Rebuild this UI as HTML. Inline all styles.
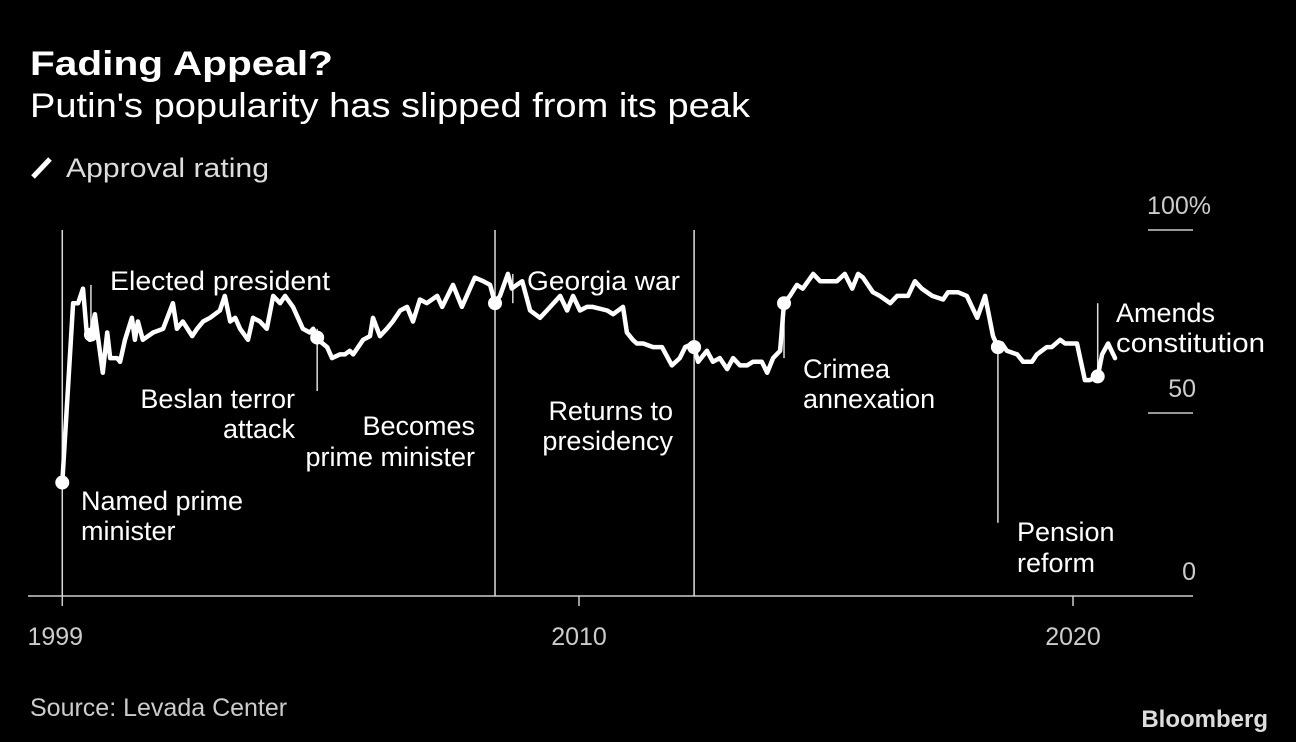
<!DOCTYPE html>
<html><head><meta charset="utf-8"><style>
html,body{margin:0;padding:0;background:#000;}
svg{display:block;}
text{font-family:"Liberation Sans",sans-serif;fill:#fff;}
</style></head><body>
<svg id="chart" width="1296" height="742" viewBox="0 0 1296 742">
<rect x="0" y="0" width="1296" height="742" fill="#000"/>
<text x="30" y="75" font-size="34" font-weight="bold" textLength="303" lengthAdjust="spacingAndGlyphs">Fading Appeal?</text>
<text x="30" y="117" font-size="34" textLength="720" lengthAdjust="spacingAndGlyphs">Putin's popularity has slipped from its peak</text>
<line x1="33" y1="177" x2="50" y2="159" stroke="#fff" stroke-width="5"/>
<text x="66" y="177" font-size="27" fill="#ddd" style="fill:#ddd" textLength="203" lengthAdjust="spacingAndGlyphs">Approval rating</text>
<g id="axes"></g>
<g id="events"></g>
<g id="series"></g>
<g id="labels">
<text x="110" y="290" font-size="27" textLength="220" lengthAdjust="spacingAndGlyphs">Elected president</text>
<text x="295" y="408" font-size="27" text-anchor="end">Beslan terror</text>
<text x="295" y="438" font-size="27" text-anchor="end">attack</text>
<text x="475" y="435" font-size="27" text-anchor="end">Becomes</text>
<text x="475" y="466" font-size="27" text-anchor="end">prime minister</text>
<text x="81" y="510" font-size="27">Named prime</text>
<text x="81" y="540" font-size="27">minister</text>
<text x="527" y="290" font-size="27" textLength="153" lengthAdjust="spacingAndGlyphs">Georgia war</text>
<text x="673" y="420" font-size="27" text-anchor="end">Returns to</text>
<text x="673" y="450" font-size="27" text-anchor="end">presidency</text>
<text x="803" y="378" font-size="27">Crimea</text>
<text x="803" y="408" font-size="27">annexation</text>
<text x="1017" y="541" font-size="27">Pension</text>
<text x="1017" y="572" font-size="27">reform</text>
<text x="1116" y="322" font-size="27">Amends</text>
<text x="1116" y="352" font-size="27" textLength="149" lengthAdjust="spacingAndGlyphs">constitution</text>
</g>
<text x="30" y="716" font-size="25" style="fill:#ccc">Source: Levada Center</text>
<text x="1268" y="727" font-size="24" font-weight="bold" text-anchor="end" style="fill:#ddd">Bloomberg</text>
</svg>
<script>
const dates=[1999.54,1999.76,1999.86,1999.96,2000.04,2000.1,2000.2,2000.26,2000.36,2000.45,2000.51,2000.65,2000.71,2000.81,2000.95,2001.01,2001.07,2001.17,2001.38,2001.58,2001.78,2001.86,2001.98,2002.17,2002.27,2002.39,2002.53,2002.73,2002.83,2002.94,2003.04,2003.14,2003.3,2003.4,2003.54,2003.68,2003.81,2003.95,2004.05,2004.21,2004.41,2004.55,2004.62,2004.72,2004.9,2005.0,2005.16,2005.26,2005.36,2005.43,2005.63,2005.77,2005.83,2005.97,2006.11,2006.23,2006.38,2006.52,2006.64,2006.78,2006.92,2007.13,2007.23,2007.45,2007.63,2007.89,2008.06,2008.2,2008.3,2008.4,2008.56,2008.64,2008.74,2008.85,2009.01,2009.21,2009.35,2009.62,2009.76,2009.88,2010.02,2010.16,2010.28,2010.57,2010.69,2010.89,2010.97,2011.09,2011.17,2011.3,2011.5,2011.68,2011.88,2012.04,2012.15,2012.31,2012.41,2012.59,2012.71,2012.85,2013.0,2013.12,2013.26,2013.4,2013.52,2013.7,2013.81,2013.93,2014.07,2014.15,2014.27,2014.41,2014.53,2014.74,2014.88,2015.08,2015.22,2015.38,2015.53,2015.65,2015.75,2015.95,2016.09,2016.3,2016.44,2016.66,2016.8,2016.94,2017.15,2017.37,2017.47,2017.67,2017.85,2018.06,2018.22,2018.38,2018.48,2018.56,2018.66,2018.87,2018.99,2019.17,2019.27,2019.47,2019.57,2019.74,2019.84,2020.08,2020.24,2020.34,2020.5,2020.59,2020.71,2020.85];
const approval=[31,80,80,84,71,70,77,71,61,72,65,65,64,70,76,70,75,70,72,73,80,73,75,71,73,75,76,78,82,75,76,73,70,76,75,73,82,80,82,79,73,72,73,70,68,65,66,66,67,66,70,71,76,71,73,75,78,79,75,81,80,82,79,85,79,87,86,85,80,82,88,84,85,86,78,76,78,82,78,82,78,79,79,78,77,79,72,70,69,69,68,68,63,65,68,69,64,67,64,65,62,65,63,63,64,64,61,65,67,80,82,85,84,88,86,86,86,88,84,88,87,83,82,80,82,82,86,84,82,81,83,83,82,76,82,71,68,69,67,66,64,64,66,68,68,70,69,69,59,59,60,66,69,65];
const yTicks=[100,50,0];
const yTickLabels=["100%","50","0"];
const xTicks=[1999.54,2010,2020];
const xTickLabels=["1999","2010","2020"];
const eventNames=["named-prime-minister","elected-president","beslan-attack","becomes-prime-minister","georgia-war","returns-to-presidency","crimea-annexation","pension-reform","amends-constitution"];
const eventDates=[1999.54,2000.12,2004.7,2008.3,2008.66,2012.33,2014.15,2018.48,2020.5];
const eventTop=[100,85,73,100,88,100,80,68,80];
const eventBottom=[0,70,56,0,80,0,65,20,59];
const showDot=[true,true,true,true,false,true,true,true,true];

const NS="http://www.w3.org/2000/svg";
const X=t=>579+(t-2010)*49.4;
const Y=v=>596-v*3.66;
function mk(tag,attrs,parent){const e=document.createElementNS(NS,tag);for(const k in attrs)e.setAttribute(k,attrs[k]);parent.appendChild(e);return e;}
function interp(t){for(let i=1;i<dates.length;i++){if(dates[i]>=t){const f=(t-dates[i-1])/(dates[i]-dates[i-1]);return approval[i-1]+f*(approval[i]-approval[i-1]);}}return approval[approval.length-1];}

const axes=document.getElementById('axes');
const base=mk('line',{x1:28,y1:Y(0),x2:1193,y2:Y(0),stroke:'#ccc','stroke-width':1.5},axes);


yTicks.forEach((v,i)=>{
  if(v>0){const g=mk('line',{x1:1148,y1:Y(v),x2:1193,y2:Y(v),stroke:'#ccc','stroke-width':1.5},axes);
  
  }
  const t=mk('text',{x:v===100?1211:1196,y:Y(v)-16,'font-size':25,'text-anchor':'end',style:'fill:#ccc'},axes);
  t.textContent=yTickLabels[i];
  
  
});
xTicks.forEach((d,i)=>{
  const l=mk('line',{x1:X(d),y1:Y(0),x2:X(d),y2:Y(0)+10,stroke:'#ccc','stroke-width':1.5},axes);
  
  
  const t=mk('text',{x:i===0?X(d)-7:X(d),y:645,'font-size':25,'text-anchor':'middle',style:'fill:#ccc'},axes);
  t.textContent=xTickLabels[i];
  
  
});

const ev=document.getElementById('events');
eventDates.forEach((d,i)=>{
  const l=mk('line',{x1:X(d),y1:Y(eventTop[i]),x2:X(d),y2:Y(eventBottom[i]),stroke:'#ddd','stroke-width':1.5},ev);
  
  
});

const ser=document.getElementById('series');
const path=mk('path',{d:dates.map((d,i)=>(i?'L':'M')+X(d).toFixed(1)+','+Y(approval[i]).toFixed(1)).join(''),fill:'none',stroke:'#fff','stroke-width':4.5,'stroke-linejoin':'round','stroke-linecap':'round'},ser);


eventDates.forEach((d,i)=>{
  if(!showDot[i])return;
  const c=mk('circle',{cx:X(d),cy:Y(interp(d)),r:7,fill:'#fff'},ser);
  
  
});
</script>
</body></html>
